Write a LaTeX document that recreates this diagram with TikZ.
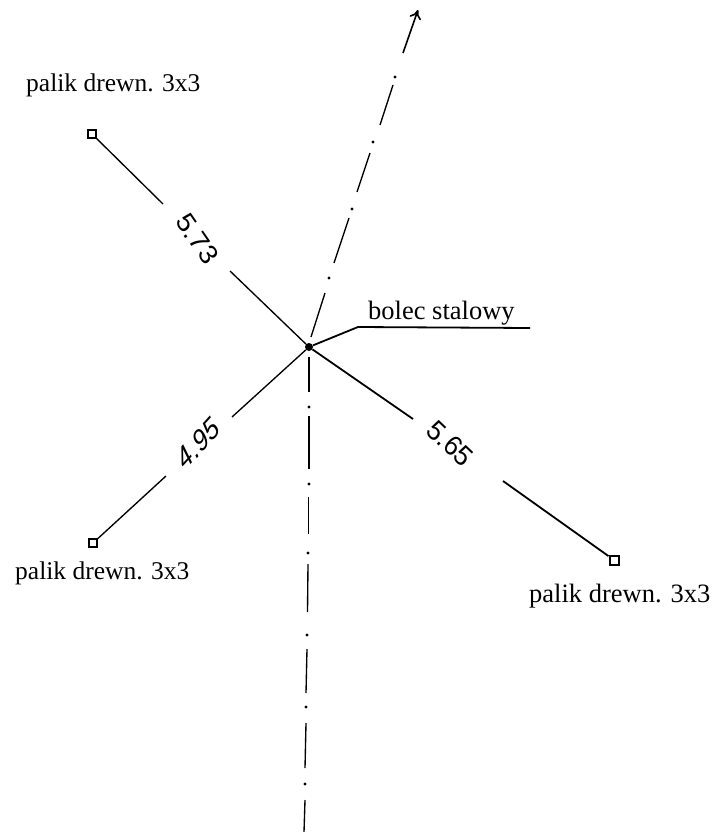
\documentclass[tikz,border=0pt]{standalone}
\usepackage{fontspec}
\setmainfont{Liberation Serif}
\newfontfamily\handfont{Liberation Sans}
\usetikzlibrary{arrows.meta}
\tikzset{
  wire/.style={line width=1.35pt,black},
  heavy/.style={line width=1.8pt,black},
  stake/.style={draw=black,line width=2pt,fill=white,rectangle,minimum size=7.5pt,inner sep=0pt},
  axisdot/.style={circle,fill=black,minimum size=3.4pt,inner sep=0pt},
  hub/.style={circle,fill=black,minimum size=8pt,inner sep=0pt},
  caption/.style={font=\fontsize{25.5pt}{28pt}\selectfont,anchor=base west,inner sep=0pt},
  bolt/.style={font=\fontsize{26.5pt}{28pt}\selectfont,anchor=base west,inner sep=0pt},
  hand/.style={font=\handfont\itshape\fontsize{30pt}{31pt}\selectfont,inner sep=0pt,transform shape,xscale=.82}
}
\begin{document}
\begin{tikzpicture}[x=1pt,y=-1pt]
\useasboundingbox (0,0) rectangle (715,832);
\fill[white] (0,0) rectangle (715,832);
% hub and stakes
\node[hub] (c) at (309,347) {};
\node[stake] (sa) at (92,134) {};
\node[stake] (sb) at (93,543) {};
\node[stake,minimum size=9pt] (sc) at (614,560) {};
% dimension lines
\coordinate (a1) at (163,204); \coordinate (a2) at (230,271);
\coordinate (b1) at (166,476); \coordinate (b2) at (232,417);
\coordinate (d1) at (413,419); \coordinate (d2) at (503,481);
\draw[wire] (sa) -- (a1);
\draw[wire] (a2) -- (c);
\draw[wire] (sb) -- (b1);
\draw[wire] (b2) -- (c);
\draw[heavy] (c) -- (d1);
\draw[heavy] (d2) -- (sc);
% leader
\coordinate (l1) at (358,327); \coordinate (l2) at (530,328);
\draw[heavy] (c) -- (l1) -- (l2);
% upper axis
\coordinate (u1) at (311,337); \coordinate (u2) at (325,293);
\coordinate (u3) at (334,263); \coordinate (u4) at (349,218);
\coordinate (u5) at (357,192); \coordinate (u6) at (370,153);
\coordinate (u7) at (380,125); \coordinate (u8) at (393,85);
\coordinate (u9) at (403,53);  \coordinate (u10) at (418,10);
\draw[wire] (u1) -- (u2);
\draw[wire] (u3) -- (u4);
\draw[wire] (u5) -- (u6);
\draw[wire] (u7) -- (u8);
\draw[wire,line width=1.6pt,-{To[length=9pt,width=12pt]}] (u9) -- (u10);
\node[axisdot] (ud1) at (329,278) {};
\node[axisdot] (ud2) at (352,209) {};
\node[axisdot] (ud3) at (373,142) {};
\node[axisdot] (ud4) at (395,77) {};
% lower axis
\coordinate (v1) at (309,357);   \coordinate (v2) at (309,392);
\coordinate (v3) at (309,416);   \coordinate (v4) at (309,469);
\coordinate (v5) at (308.5,497); \coordinate (v6) at (308.5,534);
\coordinate (v7) at (308,564);   \coordinate (v8) at (307.5,612);
\coordinate (v9) at (307,649);   \coordinate (v10) at (306,693);
\coordinate (v11) at (306,723);  \coordinate (v12) at (305,768);
\coordinate (v13) at (305,800);  \coordinate (v14) at (304,832);
\draw[wire] (v1) -- (v2);
\draw[wire] (v3) -- (v4);
\draw[wire] (v5) -- (v6);
\draw[wire] (v7) -- (v8);
\draw[wire] (v9) -- (v10);
\draw[wire] (v11) -- (v12);
\draw[wire] (v13) -- (v14);
\node[axisdot] (vd1) at (309,407) {};
\node[axisdot] (vd2) at (309,484) {};
\node[axisdot] (vd3) at (308,553) {};
\node[axisdot] (vd4) at (307,635) {};
\node[axisdot] (vd5) at (306,707) {};
\node[axisdot] (vd6) at (305,784) {};
% labels
\node[caption] (ta) at (26,92) {palik drewn. 3x3};
\node[caption] (tb) at (15,579) {palik drewn. 3x3};
\node[caption,font=\fontsize{26.5pt}{28pt}\selectfont] (tc) at (529,602) {palik drewn. 3x3};
\node[bolt] (td) at (368,319) {bolec stalowy};
\node[hand,rotate=-50] (da) at (197,238) {5.73};
\node[hand,rotate=42] (db) at (198,443) {4.95};
\node[hand,rotate=-38] (dc) at (450,443) {5.65};
\end{tikzpicture}
\end{document}
